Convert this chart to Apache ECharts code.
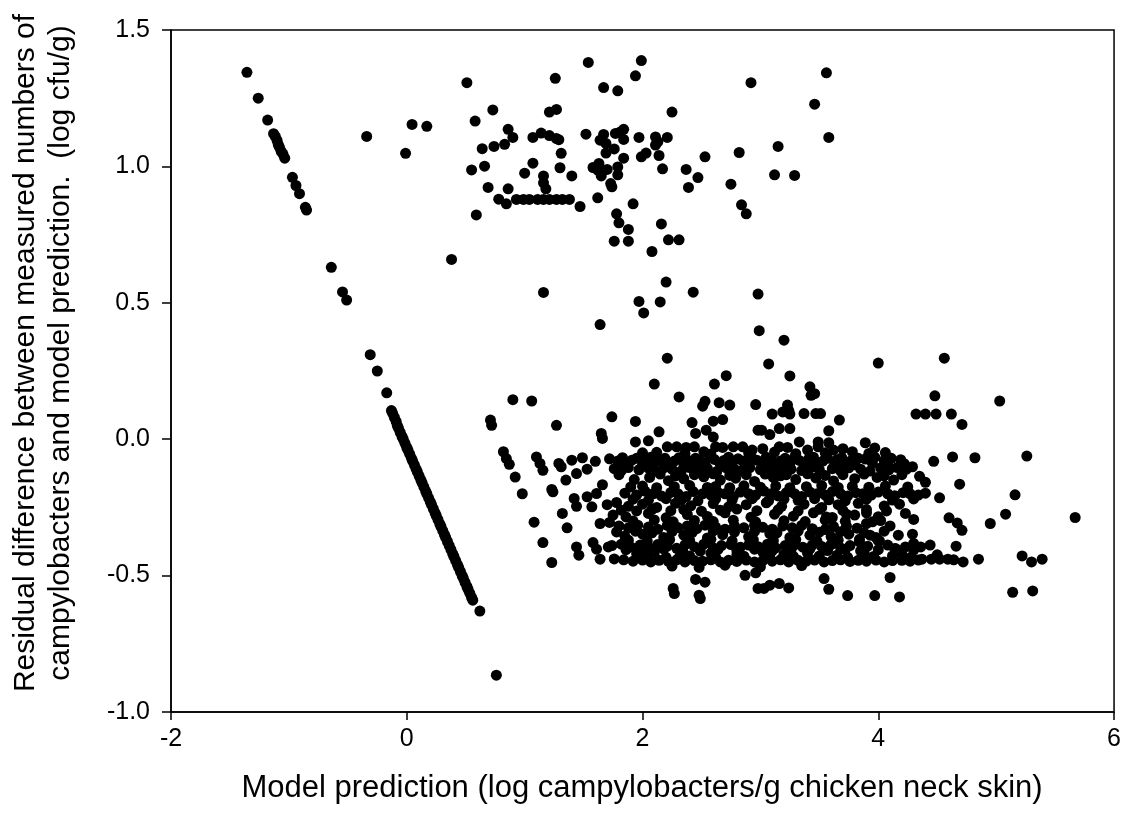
<!DOCTYPE html>
<html>
<head>
<meta charset="utf-8">
<script src="https://cdn.jsdelivr.net/npm/echarts@6/dist/echarts.min.js"></script>
<style>
  html, body { margin: 0; padding: 0; background: #fff; }
  #chart { width: 1124px; height: 823px; }
</style>
</head>
<body>
<div id="chart"></div>
<script>
// Axis ticks
const xTicks = [-2, 0, 2, 4, 6];
const yTicks = [-1.0, -0.5, 0.0, 0.5, 1.0, 1.5];

// Residuals that fall on the straight branch (low predictions)
const lineBranch = [
  [-1.356,1.345],[-1.26,1.25],[-1.18,1.17],[-1.13,1.12],[-1.115,1.11],[-1.10,1.095],[-1.09,1.08],
  [-1.08,1.07],[-1.065,1.055],[-1.05,1.045],[-1.035,1.03],[-0.97,0.96],[-0.94,0.93],[-0.91,0.90],
  [-0.86,0.85],[-0.85,0.84],[-0.64,0.63],[-0.545,0.54],[-0.51,0.51],[-0.31,0.31],[-0.25,0.25],
  [-0.17,0.17],[-0.13,0.105],[-0.12,0.095],[-0.105,0.08],[-0.09,0.065],[-0.08,0.05],[-0.07,0.04],
  [-0.055,0.025],[-0.04,0.01],[-0.03,0.0],[-0.015,-0.015],[0.0,-0.03],[0.01,-0.04],[0.025,-0.055],
  [0.04,-0.07],[0.05,-0.08],[0.065,-0.095],[0.08,-0.11],[0.09,-0.12],[0.105,-0.135],[0.12,-0.15],
  [0.13,-0.16],[0.145,-0.175],[0.16,-0.19],[0.17,-0.2],[0.185,-0.215],[0.2,-0.23],[0.21,-0.24],
  [0.225,-0.255],[0.24,-0.27],[0.25,-0.28],[0.265,-0.295],[0.28,-0.31],[0.29,-0.32],[0.305,-0.335],
  [0.32,-0.35],[0.33,-0.36],[0.345,-0.375],[0.36,-0.39],[0.375,-0.405],[0.39,-0.42],[0.4,-0.43],
  [0.415,-0.445],[0.43,-0.46],[0.44,-0.47],[0.455,-0.485],[0.47,-0.5],[0.48,-0.51],[0.495,-0.525],
  [0.51,-0.54],[0.52,-0.55],[0.535,-0.565],[0.55,-0.58],[0.56,-0.59],[0.62,-0.63],[0.76,-0.865]
];

// Upper cloud of large positive residuals
const upperCloud = [
  [1.54,1.381],[1.99,1.388],[1.94,1.332],[0.51,1.307],[1.26,1.323],[1.67,1.289],[1.79,1.277],
  [2.92,1.307],[0.73,1.207],[1.21,1.199],[1.27,1.209],[2.25,1.199],[0.58,1.166],[0.045,1.154],
  [0.17,1.147],[-0.01,1.048],[-0.34,1.110],[0.86,1.136],[0.90,1.106],[0.83,1.081],[0.74,1.073],
  [0.64,1.065],[1.07,1.106],[1.14,1.122],[1.21,1.113],[1.27,1.102],[1.29,1.098],[1.52,1.118],
  [1.67,1.117],[1.64,1.096],[1.69,1.084],[1.77,1.121],[1.84,1.136],[1.81,1.126],[1.84,1.099],
  [1.97,1.106],[2.11,1.108],[2.11,1.078],[2.21,1.106],[2.13,1.09],[1.31,1.048],[1.69,1.049],
  [1.76,1.064],[1.84,1.030],[1.99,1.035],[2.03,1.049],[2.14,1.040],[2.53,1.035],[2.82,1.051],
  [3.15,1.073],[3.56,1.343],[3.46,1.228],[3.58,1.106],[0.55,0.987],[0.66,1.001],[1.07,1.012],
  [1.00,0.975],[1.30,0.995],[1.40,0.965],[1.16,0.965],[1.16,0.940],[1.18,0.918],[1.58,0.996],
  [1.63,1.011],[1.62,0.986],[1.70,0.989],[1.65,0.965],[1.79,0.998],[1.79,0.969],[1.73,0.937],
  [1.74,0.925],[2.17,0.991],[2.37,0.989],[2.39,0.923],[2.47,0.959],[2.75,0.935],[3.12,0.969],
  [3.29,0.967],[0.69,0.923],[0.86,0.918],[0.78,0.880],[0.845,0.863],[0.93,0.879],[0.99,0.879],
  [1.04,0.879],[1.11,0.879],[1.16,0.879],[1.21,0.879],[1.27,0.879],[1.32,0.879],[1.38,0.879],
  [1.47,0.853],[1.62,0.885],[1.92,0.863],[2.84,0.859],[2.88,0.826],[0.59,0.822],[1.78,0.826],
  [1.80,0.793],[1.88,0.769],[1.76,0.726],[1.88,0.726],[2.16,0.789],[2.22,0.731],[2.31,0.731],
  [2.08,0.688],[0.38,0.659],[2.20,0.576],[1.16,0.538],[1.97,0.505],[2.01,0.463],[2.15,0.503],
  [2.43,0.539],[2.98,0.532],[1.64,0.420],[2.99,0.398]
];

// Lower cloud: scattered points at its edges
const lowerEdge = [
  [2.21,0.297],[2.10,0.202],[2.71,0.233],[2.61,0.202],[2.31,0.155],[2.53,0.139],[2.51,0.121],
  [2.42,0.061],[2.45,0.021],[2.65,0.134],[2.74,0.125],[2.60,0.066],[2.68,0.072],[2.54,0.033],
  [2.60,0.008],[2.96,0.127],[2.98,0.033],[0.90,0.145],[1.06,0.140],[0.71,0.070],[0.72,0.051],
  [1.27,0.051],[1.74,0.082],[1.94,0.065],[1.65,0.021],[1.66,0.003],[1.94,-0.010],[2.05,-0.006],
  [2.14,0.027],[0.82,-0.046],[0.845,-0.071],[0.87,-0.092],[0.92,-0.139],[0.98,-0.200],[1.10,-0.065],
  [1.13,-0.089],[1.155,-0.114],[1.23,-0.184],[1.24,-0.193],[1.29,-0.089],[1.31,-0.101],[1.35,-0.150],
  [1.40,-0.077],[1.49,-0.068],[1.44,-0.126],[1.53,-0.110],[1.60,-0.081],[1.66,-0.167],[1.42,-0.217],
  [1.44,-0.246],[1.53,-0.211],[1.57,-0.248],[1.61,-0.199],[1.32,-0.272],[1.08,-0.304],[1.36,-0.325],
  [1.155,-0.379],[1.23,-0.452],[1.44,-0.395],[1.46,-0.425],[1.58,-0.379],[1.61,-0.403],[1.64,-0.309],
  [1.72,-0.305],[1.71,-0.395],[1.64,-0.440],[1.76,-0.439],[2.45,-0.514],[2.53,-0.524],[2.26,-0.547],
  [2.27,-0.566],[2.48,-0.572],[2.49,-0.584],[2.87,-0.499],[2.96,-0.490],[2.98,-0.547],
  [3.20,0.363],[3.07,0.276],[4.00,0.279],[4.56,0.297],[3.25,0.232],[3.42,0.192],[3.43,0.161],
  [3.46,0.167],[4.48,0.159],[5.03,0.140],[3.10,0.092],[3.19,0.100],[3.25,0.092],[3.37,0.094],
  [3.47,0.094],[3.51,0.094],[3.23,0.125],[3.24,0.106],[3.67,0.070],[4.32,0.092],[4.40,0.092],
  [4.49,0.092],[4.62,0.092],[4.71,0.054],[3.01,0.033],[3.08,0.017],[3.16,0.039],[3.25,0.039],
  [3.58,0.031],[3.58,-0.013],[3.49,-0.010],[3.33,-0.010],[3.89,-0.013],[3.97,-0.032],[4.47,-0.081],
  [4.63,-0.065],[4.82,-0.068],[5.26,-0.062],[4.29,-0.101],[4.35,-0.136],[4.69,-0.165],[4.52,-0.215],
  [5.16,-0.204],[5.08,-0.275],[4.95,-0.309],[5.67,-0.287],[4.60,-0.288],[4.67,-0.307],[4.71,-0.334],
  [4.66,-0.392],[5.22,-0.428],[5.30,-0.450],[5.39,-0.440],[5.14,-0.561],[5.31,-0.556],[3.03,-0.547],
  [3.08,-0.535],[3.16,-0.529],[3.24,-0.545],[3.54,-0.511],[3.58,-0.550],[3.74,-0.573],[3.97,-0.573],
  [4.18,-0.578],[4.10,-0.507],[4.07,-0.263],[4.29,-0.348],[4.30,-0.382],[4.23,-0.272],[4.30,-0.294],
  [3.73,-0.275],[3.73,-0.319],[3.90,-0.270],[3.95,-0.303],[3.90,-0.309],[3.56,-0.285],[3.55,-0.331],
  [3.84,-0.376],[3.93,-0.352],[4.01,-0.373],[4.14,-0.401],[4.23,-0.395]
];

// Lower cloud: dense core, band by band
const lowerCore = [
  [2.21,-0.028],[2.29,-0.028],[2.37,-0.03],[2.44,-0.028],[2.62,-0.028],[2.68,-0.03],[2.77,-0.028],
  [2.85,-0.028],[3.16,-0.028],[3.23,-0.03],[3.49,-0.028],[3.02,-0.035],[2.93,-0.04],[3.40,-0.04],
  [3.62,-0.04],[3.70,-0.035],
  [1.72,-0.072],[1.79,-0.08],[1.83,-0.068],[1.91,-0.077],[1.95,-0.07],[2.03,-0.082],[2.07,-0.066],
  [2.15,-0.075],[2.19,-0.07],[2.27,-0.08],[2.31,-0.068],[2.38,-0.076],[2.45,-0.07],[2.49,-0.081],
  [2.57,-0.067],[2.61,-0.074],[2.69,-0.078],[2.73,-0.066],[2.81,-0.072],[2.85,-0.08],[2.93,-0.07],
  [2.97,-0.077],[3.05,-0.066],[3.09,-0.075],[3.17,-0.08],[3.21,-0.07],[3.29,-0.068],[3.33,-0.078],
  [3.41,-0.072],[3.45,-0.066],[3.53,-0.08],[3.57,-0.07],[3.65,-0.075],[3.69,-0.068],[3.77,-0.079],
  [3.83,-0.07],[3.89,-0.073],[3.97,-0.066],[4.05,-0.078],[4.11,-0.07],[4.19,-0.075],
  [1.76,-0.108],[1.82,-0.115],[1.88,-0.104],[1.97,-0.112],[2.05,-0.106],[2.12,-0.118],[2.18,-0.105],
  [2.25,-0.11],[2.33,-0.116],[2.40,-0.104],[2.47,-0.112],[2.55,-0.107],[2.63,-0.118],[2.71,-0.105],
  [2.78,-0.11],[2.84,-0.116],[2.91,-0.104],[3.00,-0.112],[3.07,-0.107],[3.13,-0.117],[3.19,-0.106],
  [3.26,-0.11],[3.35,-0.115],[3.43,-0.104],[3.50,-0.112],[3.61,-0.108],[3.68,-0.116],[3.75,-0.105],
  [3.85,-0.11],[3.93,-0.117],[4.02,-0.106],[4.09,-0.112],[4.16,-0.104],[4.24,-0.11],
  [1.93,-0.148],[2.06,-0.14],[2.22,-0.152],[2.35,-0.145],[2.52,-0.138],[2.66,-0.15],[2.79,-0.143],
  [2.95,-0.155],[3.11,-0.14],[3.30,-0.148],[3.47,-0.142],[3.62,-0.153],[3.80,-0.145],[3.99,-0.14],
  [4.13,-0.15],[4.40,-0.158],
  [1.85,-0.198],[1.95,-0.205],[2.02,-0.19],[2.09,-0.2],[2.16,-0.208],[2.24,-0.195],[2.30,-0.2],
  [2.37,-0.21],[2.43,-0.192],[2.51,-0.2],[2.58,-0.205],[2.64,-0.195],[2.70,-0.2],[2.77,-0.21],
  [2.83,-0.194],[2.90,-0.2],[2.96,-0.205],[3.03,-0.19],[3.09,-0.2],[3.15,-0.208],[3.22,-0.196],
  [3.29,-0.2],[3.35,-0.21],[3.42,-0.194],[3.48,-0.2],[3.55,-0.205],[3.61,-0.192],[3.68,-0.2],
  [3.74,-0.208],[3.81,-0.196],[3.87,-0.2],[3.94,-0.205],[4.00,-0.194],[4.08,-0.2],[4.14,-0.207],
  [4.21,-0.196],[4.27,-0.2],[4.34,-0.205],[4.40,-0.198],
  [1.70,-0.24],[1.78,-0.232],[1.88,-0.246],[2.00,-0.238],[2.12,-0.25],[2.28,-0.235],[2.41,-0.244],
  [2.60,-0.236],[2.73,-0.248],[2.88,-0.24],[3.05,-0.233],[3.18,-0.246],[3.37,-0.238],[3.52,-0.25],
  [3.66,-0.24],[3.83,-0.235],[4.05,-0.245],[4.18,-0.238],
  [1.75,-0.278],[1.86,-0.285],[2.05,-0.272],[2.20,-0.288],[2.38,-0.276],[2.55,-0.283],[2.70,-0.27],
  [2.92,-0.286],[3.12,-0.275],[3.28,-0.282],[3.45,-0.27],[3.61,-0.287],[3.80,-0.278],[4.00,-0.284],
  [1.80,-0.318],[1.88,-0.325],[1.96,-0.315],[2.05,-0.322],[2.13,-0.33],[2.21,-0.316],[2.30,-0.324],
  [2.38,-0.318],[2.46,-0.328],[2.53,-0.315],[2.62,-0.322],[2.70,-0.33],[2.78,-0.318],[2.86,-0.325],
  [2.95,-0.315],[3.02,-0.323],[3.10,-0.33],[3.19,-0.318],[3.27,-0.325],[3.35,-0.316],[3.44,-0.328],
  [3.62,-0.32],[3.82,-0.326],[4.10,-0.318],
  [1.85,-0.355],[2.00,-0.348],[2.18,-0.36],[2.35,-0.352],[2.55,-0.362],[2.68,-0.35],[2.90,-0.358],
  [3.08,-0.346],[3.25,-0.36],[3.42,-0.352],[3.60,-0.357],[3.75,-0.348],[3.98,-0.36],[4.17,-0.352],
  [1.74,-0.39],[1.82,-0.385],[1.90,-0.395],[1.98,-0.388],[2.06,-0.398],[2.13,-0.386],[2.21,-0.392],
  [2.29,-0.4],[2.36,-0.387],[2.44,-0.394],[2.52,-0.385],[2.60,-0.398],[2.67,-0.39],[2.75,-0.386],
  [2.83,-0.396],[2.90,-0.388],[2.98,-0.394],[3.06,-0.385],[3.13,-0.398],[3.21,-0.39],[3.29,-0.387],
  [3.36,-0.396],[3.44,-0.388],[3.52,-0.393],[3.60,-0.386],[3.68,-0.398],[3.76,-0.39],[3.91,-0.392],
  [4.08,-0.388],[4.36,-0.395],[4.44,-0.388],
  [1.95,-0.42],[2.10,-0.415],[2.32,-0.425],[2.58,-0.418],[2.80,-0.424],[3.02,-0.414],[3.20,-0.422],
  [3.40,-0.418],[3.65,-0.425],[3.88,-0.416],[4.20,-0.42],[4.50,-0.424],
  [1.84,-0.442],[1.92,-0.447],[2.00,-0.443],[2.07,-0.45],[2.14,-0.444],[2.22,-0.448],[2.29,-0.442],
  [2.36,-0.45],[2.44,-0.445],[2.51,-0.447],[2.58,-0.442],[2.66,-0.45],[2.73,-0.444],[2.80,-0.448],
  [2.88,-0.443],[2.95,-0.45],[3.02,-0.445],[3.10,-0.447],[3.17,-0.442],[3.24,-0.45],[3.32,-0.444],
  [3.39,-0.447],[3.46,-0.443],[3.54,-0.45],[3.61,-0.445],[3.68,-0.442],[3.76,-0.448],[3.83,-0.444],
  [3.90,-0.447],[3.98,-0.443],[4.05,-0.45],[4.12,-0.445],[4.20,-0.444],[4.27,-0.447],[4.34,-0.443],
  [4.37,-0.44],[4.45,-0.44],[4.52,-0.44],[4.59,-0.44],[4.64,-0.442],[4.72,-0.45],[4.85,-0.44],
  [2.25,-0.465],[2.48,-0.47],[2.70,-0.462],[3.00,-0.468],[3.35,-0.463]
];

// Lower cloud: points lying between the main bands
const lowerBetween = [
  [2.00,-0.05],[2.12,-0.048],[2.36,-0.052],[2.52,-0.046],[2.58,-0.054],[2.90,-0.05],[3.12,-0.047],
  [3.30,-0.053],[3.55,-0.05],[3.78,-0.046],[3.92,-0.052],[4.06,-0.049],
  [1.86,-0.09],[2.00,-0.094],[2.10,-0.088],[2.22,-0.092],[2.35,-0.09],[2.42,-0.095],[2.53,-0.088],
  [2.66,-0.092],[2.76,-0.09],[2.88,-0.094],[3.02,-0.088],[3.15,-0.093],[3.25,-0.09],[3.38,-0.095],
  [3.48,-0.089],[3.63,-0.092],[3.72,-0.09],[3.80,-0.094],[3.95,-0.088],[4.08,-0.092],[4.22,-0.09],
  [1.80,-0.13],[2.15,-0.128],[2.28,-0.134],[2.44,-0.13],[2.60,-0.127],[2.74,-0.133],[2.88,-0.13],
  [3.04,-0.128],[3.17,-0.134],[3.22,-0.13],[3.40,-0.127],[3.55,-0.133],[3.70,-0.13],[3.88,-0.128],
  [4.05,-0.134],[4.20,-0.13],
  [1.90,-0.175],[2.00,-0.172],[2.12,-0.178],[2.27,-0.174],[2.40,-0.17],[2.55,-0.177],[2.62,-0.173],
  [2.74,-0.178],[2.86,-0.171],[3.00,-0.176],[3.13,-0.172],[3.25,-0.178],[3.39,-0.174],[3.52,-0.17],
  [3.66,-0.177],[3.78,-0.173],[3.92,-0.176],[4.06,-0.172],[4.25,-0.175],
  [1.92,-0.22],[2.05,-0.224],[2.20,-0.218],[2.33,-0.222],[2.47,-0.226],[2.62,-0.219],[2.76,-0.223],
  [2.93,-0.218],[3.07,-0.225],[3.20,-0.22],[3.32,-0.224],[3.46,-0.218],[3.58,-0.222],[3.72,-0.226],
  [3.90,-0.22],[4.12,-0.223],[4.30,-0.219],
  [1.82,-0.26],[1.95,-0.263],[2.08,-0.257],[2.24,-0.262],[2.35,-0.258],[2.50,-0.264],[2.66,-0.26],
  [2.80,-0.256],[2.97,-0.262],[3.15,-0.259],[3.32,-0.263],[3.50,-0.257],[3.70,-0.261],[3.90,-0.258],
  [1.92,-0.30],[2.10,-0.296],[2.26,-0.303],[2.44,-0.298],[2.60,-0.302],[2.77,-0.297],[2.96,-0.303],
  [3.20,-0.299],[3.38,-0.302],[3.55,-0.297],[3.72,-0.301],[4.02,-0.298],
  [1.78,-0.34],[1.94,-0.337],[2.08,-0.343],[2.25,-0.339],[2.42,-0.342],[2.60,-0.336],[2.78,-0.341],
  [2.95,-0.338],[3.14,-0.343],[3.32,-0.337],[3.50,-0.341],[3.68,-0.339],[3.88,-0.343],[4.05,-0.337],
  [1.88,-0.37],[2.04,-0.373],[2.23,-0.368],[2.40,-0.372],[2.58,-0.367],[2.76,-0.373],[2.94,-0.369],
  [3.11,-0.372],[3.30,-0.368],[3.48,-0.374],[3.66,-0.37],[3.84,-0.367],[4.00,-0.372],
  [1.86,-0.405],[2.02,-0.408],[2.18,-0.403],[2.34,-0.407],[2.49,-0.41],[2.64,-0.404],[2.80,-0.408],
  [2.95,-0.403],[3.10,-0.409],[3.26,-0.405],[3.42,-0.402],[3.57,-0.408],[3.72,-0.404],[3.85,-0.409],
  [4.00,-0.405],[4.15,-0.402],[4.30,-0.407],
  [2.04,-0.43],[2.20,-0.433],[2.40,-0.428],[2.62,-0.432],[2.86,-0.429],[3.08,-0.434],[3.28,-0.43],
  [3.50,-0.428],[3.74,-0.433],[3.96,-0.43],[4.12,-0.428],[4.28,-0.432]
];

const allPoints = lineBranch.concat(upperCloud, lowerEdge, lowerCore, lowerBetween);

const chart = echarts.init(document.getElementById('chart'), null, { renderer: 'canvas' });
const FONT = 'Liberation Sans, Arial, sans-serif';

chart.setOption({
  animation: false,
  backgroundColor: '#ffffff',
  grid: {
    left: 171, right: 9, top: 30, bottom: 111,
    show: true, borderColor: '#000', borderWidth: 1.5, backgroundColor: 'transparent'
  },
  xAxis: {
    type: 'value',
    min: xTicks[0], max: xTicks[xTicks.length - 1], interval: 2,
    axisLine: { show: true, onZero: false, lineStyle: { color: '#000', width: 1.5 } },
    axisTick: { show: true, inside: false, length: 8, lineStyle: { color: '#000', width: 1.5 } },
    axisLabel: { color: '#000', fontFamily: FONT, fontSize: 25, margin: 15 },
    splitLine: { show: false }
  },
  yAxis: {
    type: 'value',
    min: yTicks[0], max: yTicks[yTicks.length - 1], interval: 0.5,
    axisLine: { show: true, onZero: false, lineStyle: { color: '#000', width: 1.5 } },
    axisTick: { show: true, inside: false, length: 9, lineStyle: { color: '#000', width: 1.5 } },
    axisLabel: {
      color: '#000', fontFamily: FONT, fontSize: 25, margin: 21,
      formatter: v => v.toFixed(1)
    },
    splitLine: { show: false }
  },
  graphic: [
    {
      type: 'text', x: 642, y: 788,
      style: {
        text: 'Model prediction (log campylobacters/g chicken neck skin)',
        font: '31px ' + FONT, fill: '#000',
        textAlign: 'center', textVerticalAlign: 'middle'
      }
    },
    {
      type: 'text', x: 43, y: 353, rotation: Math.PI / 2,
      style: {
        text: 'Residual difference between measured numbers of\ncampylobacters and model prediction.  (log cfu/g)',
        font: '30px ' + FONT, fill: '#000', lineHeight: 35,
        textAlign: 'center', textVerticalAlign: 'middle'
      }
    }
  ],
  series: [{
    type: 'scatter',
    data: allPoints,
    symbol: 'circle',
    symbolSize: 11,
    itemStyle: { color: '#000', opacity: 1 },
    silent: true
  }]
});
</script>
</body>
</html>
